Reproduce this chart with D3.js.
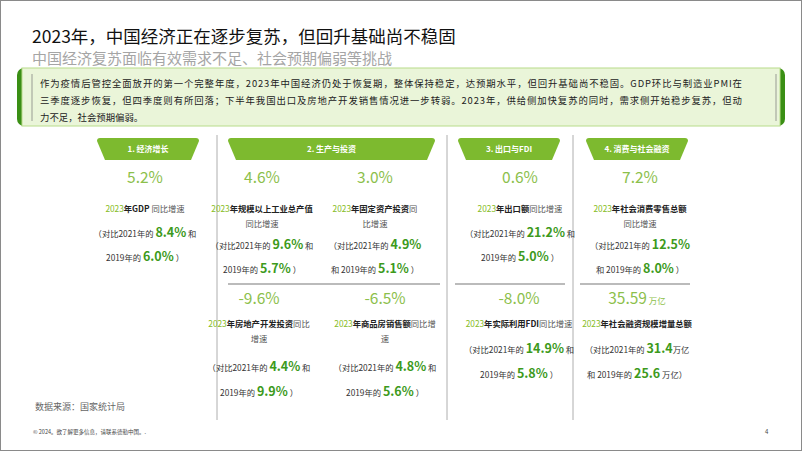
<!DOCTYPE html>
<html><head><meta charset="utf-8">
<script src="https://cdn.jsdelivr.net/npm/d3@7"></script>
<style>body{margin:0;background:#fff}svg{display:block;font-family:"Noto Sans CJK SC","Noto Sans",sans-serif}</style>
</head><body><svg id="c" width="802" height="451"></svg>
<script>
// --- data ---
const sections = ["1. 经济增长", "2. 生产与投资", "3. 出口与FDI", "4. 消费与社会融资"];
const headline = ["5.2%", "4.6%", "3.0%", "0.6%", "7.2%", "-9.6%", "-6.5%", "-8.0%", "35.59"];
const unit = ["", "", "", "", "", "", "", "", "万亿"];
const vs2021 = ["8.4%", "9.6%", "4.9%", "21.2%", "12.5%", "4.4%", "4.8%", "14.9%", "31.4"];
const vs2019 = ["6.0%", "5.7%", "5.1%", "5.0%", "8.0%", "9.9%", "5.6%", "5.8%", "25.6"];
// description lines: [plain/bold text pieces]
const descLines = [
  [[["2023","y"],["年GDP ","b"],["同比增速","n"]]],
  [[["2023","y"],["年规模以上工业总产值","b"]],[["同比增速","n"]]],
  [[["2023","y"],["年固定资产投资","b"],["同","n"]],[["比增速","n"]]],
  [[["2023","y"],["年出口额","b"],["同比增速","n"]]],
  [[["2023","y"],["年社会消费零售总额","b"]],[["同比增速","n"]]],
  [[["2023","y"],["年房地产开发投资","b"],["同比","n"]],[["增速","n"]]],
  [[["2023","y"],["年商品房销售额","b"],["同比增","n"]],[["速","n"]]],
  [[["2023","y"],["年实际利用FDI","b"],["同比增速","n"]]],
  [[["2023","y"],["年社会融资规模增量总额","b"]]]
];

const svg = d3.select("#c");
const green = "#86bc25";

// border
svg.append("rect").attr("x",0.5).attr("y",0.5).attr("width",801).attr("height",450)
  .attr("fill","none").attr("stroke","#8a8a8a");

svg.append("text").attr("x",32).attr("y",43).attr("font-size",17.5).attr("fill","#111")
  .text("2023年，中国经济正在逐步复苏，但回升基础尚不稳固");
svg.append("text").attr("x",32).attr("y",64).attr("font-size",15).attr("fill","#a5a5a5")
  .text("中国经济复苏面临有效需求不足、社会预期偏弱等挑战");

// summary box
svg.append("rect").attr("x",17).attr("y",68).attr("width",768).attr("height",58).attr("rx",7)
  .attr("fill","#3a8f14");
svg.append("rect").attr("x",22).attr("y",68).attr("width",758).attr("height",58)
  .attr("fill","#eaf5d9").attr("stroke","#b8dc8a");
[32, 776].forEach(x => svg.append("line").attr("x1",x).attr("x2",x).attr("y1",74).attr("y2",121)
  .attr("stroke","#777").attr("stroke-width",0.7));
["作为疫情后管控全面放开的第一个完整年度，2023年中国经济仍处于恢复期，整体保持稳定，达预期水平，但回升基础尚不稳固。GDP环比与制造业PMI在",
 "三季度逐步恢复，但四季度则有所回落；下半年我国出口及房地产开发销售情况进一步转弱。2023年，供给侧加快复苏的同时，需求侧开始稳步复苏，但动",
 "力不足，社会预期偏弱。"].forEach((t,i) =>
  svg.append("text").attr("x",40).attr("y",87+i*17).attr("font-size",9.4).attr("fill","#222")
    .attr("textLength", i<2 ? 702 : null).text(t));

// section layout
const tabs = [[97,199],[228,435],[458,560],[586,688]];
const tabY = 138, tabH = 22;
sections.forEach((s,i) => {
  const [a,b] = tabs[i];
  svg.append("path").attr("fill","#7dba2f")
    .attr("d",`M${a+3},${tabY} L${b-3},${tabY} Q${b},${tabY} ${b},${tabY+3} L${b-8},${tabY+tabH} L${a+8},${tabY+tabH} L${a},${tabY+3} Q${a},${tabY} ${a+3},${tabY}Z`);
  svg.append("text").attr("x",(a+b)/2).attr("y",tabY+14).attr("text-anchor","middle")
    .attr("font-size",8).attr("font-weight","bold").attr("fill","#fff").text(s);
});
[217, 447, 573].forEach(xx => svg.append("line").attr("x1",xx).attr("x2",xx).attr("y1",135).attr("y2",420)
  .attr("stroke","#999").attr("stroke-width",0.8));
[[228,440],[455,565],[580,690]].forEach(([a,b]) => svg.append("line").attr("x1",a).attr("x2",b)
  .attr("y1",284).attr("y2",284).attr("stroke","#bbb").attr("stroke-width",2));

// card positions (center x, top y)
const cx = [145, 262, 375, 520, 640, 259, 385, 519, 637];
const cy = [183, 183, 183, 183, 183, 304, 304, 304, 304];
const styles = {
  y:{fill:green, weight:"normal", size:8.3},
  b:{fill:"#222", weight:"bold", size:8.3},
  n:{fill:"#555", weight:"normal", size:8.3},
  v:{fill:"#3d9a1c", weight:"bold", size:12.5},
  p:{fill:"#333", weight:"normal", size:8.3}
};
function line(xc, y, parts) {
  const t = svg.append("text").attr("x",xc).attr("y",y).attr("text-anchor","middle");
  parts.forEach(([s,k]) => t.append("tspan").text(s).attr("fill",styles[k].fill)
    .attr("font-weight",styles[k].weight).attr("font-size",styles[k].size));
}
headline.forEach((h,i) => {
  const t = svg.append("text").attr("x",cx[i]).attr("y",cy[i]).attr("text-anchor","middle");
  t.append("tspan").text(h).attr("font-size",15.5).attr("fill","#8cc04b");
  if (unit[i]) t.append("tspan").text(" "+unit[i]).attr("font-size",8.5).attr("fill","#8cc04b");
  const top = i < 5;
  const multi = descLines[i].length > 1;
  let y = cy[i] + (top ? 29 : 23);
  descLines[i].forEach(l => { line(cx[i], y, l); y += 15; });
  const gap = top ? 24 : 25;
  y += (multi ? (top ? 5 : 11) : 8) - 15 + gap - 10 + 3;
  if (i === 2 || i === 4) {
    line(cx[i], y, [["（对比2021年的 ","p"],[vs2021[i],"v"]]);
    line(cx[i], y+gap, [["和 2019年的 ","p"],[vs2019[i],"v"],[" ）","p"]]);
  } else if (i === 8) {
    line(cx[i], y, [["（对比2021年的 ","p"],[vs2021[i],"v"],["万亿","p"]]);
    line(cx[i], y+gap, [["和 2019年的 ","p"],[vs2019[i],"v"],[" 万亿）","p"]]);
  } else {
    line(cx[i], y, [["（对比2021年的 ","p"],[vs2021[i],"v"],[" 和","p"]]);
    line(cx[i], y+gap, [["2019年的 ","p"],[vs2019[i],"v"],[" ）","p"]]);
  }
});

svg.append("text").attr("x",35).attr("y",410).attr("font-size",9).attr("fill","#666").text("数据来源：国家统计局");
svg.append("text").attr("x",33).attr("y",434).attr("font-size",5.5).attr("fill","#444").text("© 2024。欲了解更多信息，请联系德勤中国。.");
svg.append("text").attr("x",765).attr("y",434).attr("font-size",6).attr("fill","#444").text("4");
</script></body></html>
